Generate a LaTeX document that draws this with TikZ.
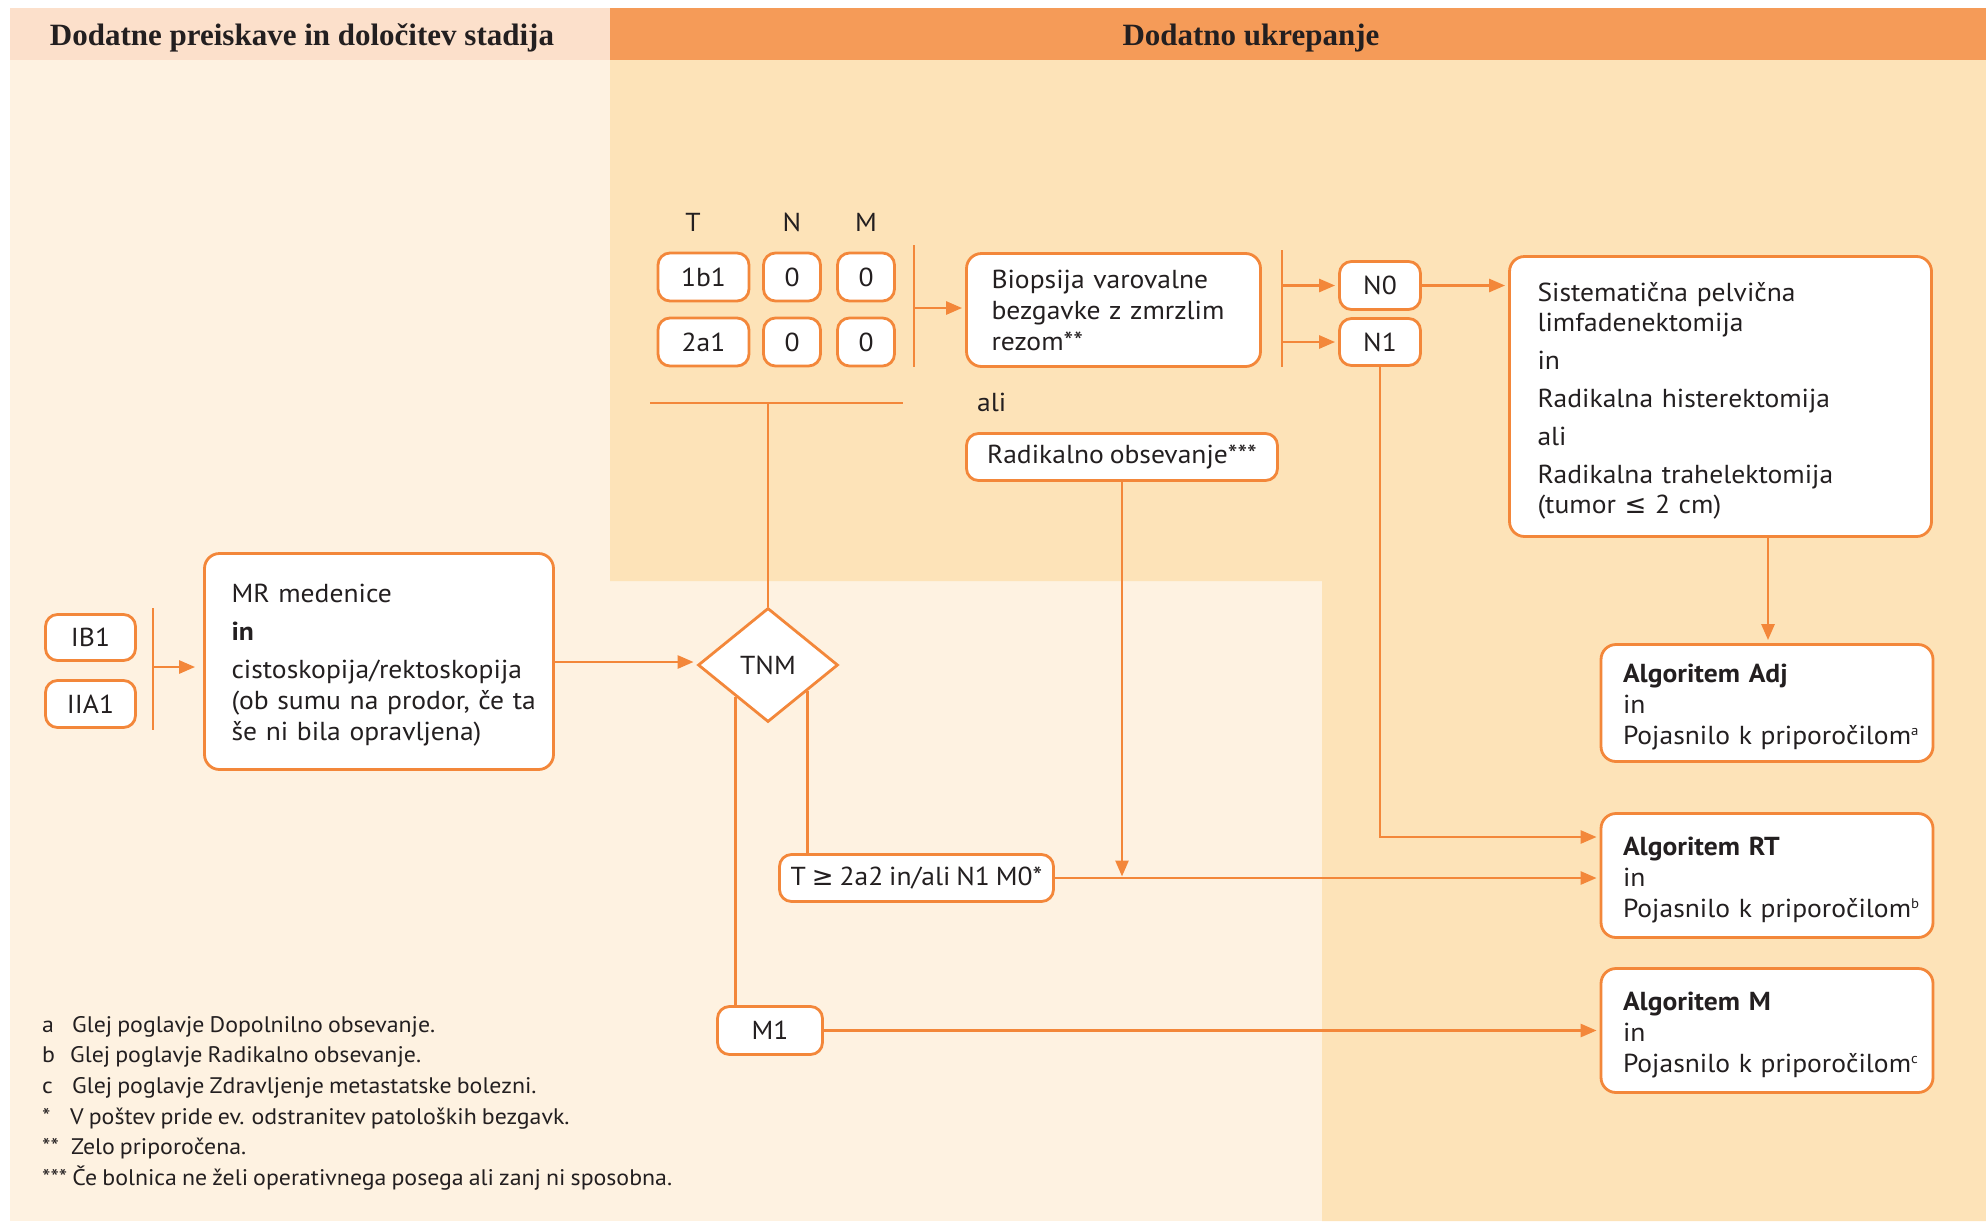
\documentclass[tikz,border=0pt]{standalone}
\usepackage{fontspec}
\setmainfont{PT Sans}[FakeStretch=1.06, WordSpace=0.8]
\newfontfamily\headfont{Liberation Serif}
\newfontfamily\symfont{DejaVu Sans}
\usetikzlibrary{shapes.geometric,arrows.meta,calc}
\definecolor{lineor}{HTML}{F3873A}
\definecolor{hdrL}{HTML}{FCE0CB}
\definecolor{hdrR}{HTML}{F59B58}
\definecolor{cream}{HTML}{FEF2E1}
\definecolor{beige}{HTML}{FDE3B8}
\definecolor{txt}{HTML}{231F20}
\newcommand\bodyf{\fontsize{26}{31}\selectfont}
\newcommand\footf{\fontsize{22.5}{25}\selectfont}
\newcommand\headf{\fontsize{31}{34}\selectfont\headfont\bfseries}
\newcommand\supr[1]{\raisebox{9pt}{\fontsize{14}{14}\selectfont #1}}
\begin{document}
\begin{tikzpicture}[x=1pt,y=-1pt,
  box/.style={draw=lineor, line width=2.8pt, fill=white, rounded corners=15pt, text=txt, inner sep=0pt, font=\bodyf},
  sbox/.style={box, rounded corners=12pt, align=center},
  lbox/.style={box, align=left},
  tnmshape/.style={diamond, draw=lineor, line width=2.8pt, fill=white, text=txt, inner sep=0pt, font=\bodyf, minimum width=140pt, minimum height=114pt},
  con/.style={draw=lineor, line width=2.7pt},
  arr/.style={con, -{Triangle[length=16pt,width=13pt]}, shorten >=3pt},
  lab/.style={text=txt, inner sep=0pt, font=\bodyf},
  head/.style={text=txt, inner sep=0pt, font=\headf, anchor=base},
  foot/.style={text=txt, inner sep=0pt, anchor=base west, font=\footf},
]
\useasboundingbox (0,0) rectangle (1986,1221);
% backgrounds
\fill[cream] (10,60) rectangle (1986,1221);
\fill[beige] (610,60) -- (1986,60) -- (1986,1221) -- (1322,1221) -- (1322,581) -- (610,581) -- cycle;
\fill[hdrL] (10,8) rectangle (610,60);
\fill[hdrR] (610,8) rectangle (1986,60);
\node[head] (h1) at (302,45) {Dodatne preiskave in določitev stadija};
\node[head] (h2) at (1251,45) {Dodatno ukrepanje};

% left part
\node[sbox, minimum width=90pt, minimum height=46pt] (ib1) at (90.5,637.5) {IB1};
\node[sbox, minimum width=90pt, minimum height=47pt] (iia1) at (90.5,704) {IIA1};
\node[lbox, inner xsep=27pt, text width=295pt, minimum height=216pt] (mr) at (379,661.5)
  {\rule{0pt}{25pt}MR medenice\\[7pt]\textbf{in}\\[7pt]\mbox{cistoskopija/rektoskopija}\\\mbox{(ob sumu na prodor, če ta}\\\mbox{še ni bila opravljena)}};
\node[tnmshape] (tnm) at (768,665) {TNM};

% TNM table
\node[lab] (lt) at (693,222) {T};
\node[lab] (ln) at (792,222) {N};
\node[lab] (lm) at (866,222) {M};
\node[sbox, minimum width=91pt, minimum height=48pt] (t1) at (703.5,277) {1b1};
\node[sbox, minimum width=91pt, minimum height=48pt] (t2) at (703.5,342) {2a1};
\node[sbox, minimum width=57pt, minimum height=48pt] (n1) at (792,277) {0};
\node[sbox, minimum width=57pt, minimum height=48pt] (n2) at (792,342) {0};
\node[sbox, minimum width=57pt, minimum height=48pt] (m1a) at (866,277) {0};
\node[sbox, minimum width=57pt, minimum height=48pt] (m2a) at (866,342) {0};

\node[lbox, inner xsep=25pt, text width=244pt, minimum height=113pt] (bio) at (1113.5,310)
  {\mbox{Biopsija varovalne}\\\mbox{bezgavke z zmrzlim}\\rezom**};
\node[lab, anchor=west] (ali) at (977,402) {ali};
\node[sbox, minimum width=311pt, minimum height=47pt] (rad) at (1122,457) {Radikalno obsevanje***};

\node[sbox, minimum width=81pt, minimum height=48pt] (nn0) at (1380,285.5) {N0};
\node[sbox, minimum width=81pt, minimum height=47pt] (nn1) at (1380,342) {N1};

\node[lbox, inner xsep=28pt, text width=366pt, minimum height=280pt, font=\fontsize{26}{30}\selectfont] (sist) at (1720.5,396.5)
  {\rule{0pt}{27pt}Sistematična pelvična\\limfadenektomija\\[8pt]in\\[8pt]Radikalna histerektomija\\[8pt]ali\\[8pt]Radikalna trahelektomija\\(tumor {\symfont ≤} 2 cm)};

\node[lbox, inner xsep=22pt, text width=288pt, minimum height=117pt] (adj) at (1767,703)
  {\rule{0pt}{27pt}\textbf{Algoritem Adj}\\in\\\mbox{Pojasnilo k priporočilom\supr{a}}};
\node[lbox, inner xsep=22pt, text width=288pt, minimum height=124pt] (rt) at (1767,875.5)
  {\rule{0pt}{27pt}\textbf{Algoritem RT}\\in\\\mbox{Pojasnilo k priporočilom\supr{b}}};
\node[lbox, inner xsep=22pt, text width=288pt, minimum height=124pt] (algm) at (1767,1030.5)
  {\rule{0pt}{27pt}\textbf{Algoritem M}\\in\\\mbox{Pojasnilo k priporočilom\supr{c}}};

\node[sbox, minimum width=274pt, minimum height=47pt] (tge) at (916.5,878) {T {\symfont ≥} 2a2 in/ali N1 M0*};
\node[sbox, minimum width=105pt, minimum height=48pt] (mm1) at (770,1030.5) {M1};

% brackets
\coordinate (b1t) at (153,608); \coordinate (b1b) at (153,730); \coordinate (b1m) at (153,667);
\coordinate (b2t) at (914,245); \coordinate (b2b) at (914,367); \coordinate (b2m) at (914,308);
\coordinate (b3t) at (1282,250); \coordinate (b3b) at (1282,367);
\coordinate (hl) at (650,403); \coordinate (hr) at (903,403);
\draw[con] (b1t) -- (b1b);
\draw[con] (b2t) -- (b2b);
\draw[con] (b3t) -- (b3b);
\draw[con] (hl) -- (hr);

% connectors
\draw[arr, shorten >=8pt] (b1m) -- (b1m -| mr.west);
\draw[arr] (mr.east |- 0,662) -- (tnm.west |- 0,662);
\draw[con] (tnm.north) -- (tnm.north |- hl);
\draw[arr] (b2m) -- (b2m -| bio.west);
\draw[arr] (b3t |- nn0.west) -- (nn0.west);
\draw[arr] (b3t |- nn1.west) -- (nn1.west);
\draw[arr] (nn0.east) -- (nn0.east -| sist.west);
\draw[arr] (sist.south -| 1768,0) -- (adj.north -| 1768,0);
\draw[arr] (nn1.south) |- (rt.west |- 0,837);
\coordinate (tr) at ($(tnm.east)!0.45!(tnm.south)$);
\coordinate (tl) at ($(tnm.west)!0.54!(tnm.south)$);
\draw[con] (tr) -- (tr |- tge.north);
\draw[con] (tl) -- (tl |- mm1.north);
\draw[arr] (tge.east) -- (tge.east -| rt.west);
\draw[arr] (mm1.east) -- (mm1.east -| algm.west);
\draw[arr, shorten >=1.5pt] (rad.south) -- (rad.south |- tge.east);

% footnotes
\node[foot] (fa) at (42,1032) {a};
\node[foot] (fat) at (72,1032) {Glej poglavje Dopolnilno obsevanje.};
\node[foot] (fb) at (42,1062) {b};
\node[foot] (fbt) at (70,1062) {Glej poglavje Radikalno obsevanje.};
\node[foot] (fc) at (42,1093) {c};
\node[foot] (fct) at (72,1093) {Glej poglavje Zdravljenje metastatske bolezni.};
\node[foot] (fs1) at (42,1124) {*};
\node[foot] (fs1t) at (70,1124) {V poštev pride ev. odstranitev patoloških bezgavk.};
\node[foot] (fs2) at (42,1154) {**};
\node[foot] (fs2t) at (71,1154) {Zelo priporočena.};
\node[foot] (fs3) at (42,1185) {*** Če bolnica ne želi operativnega posega ali zanj ni sposobna.};
\end{tikzpicture}
\end{document}
